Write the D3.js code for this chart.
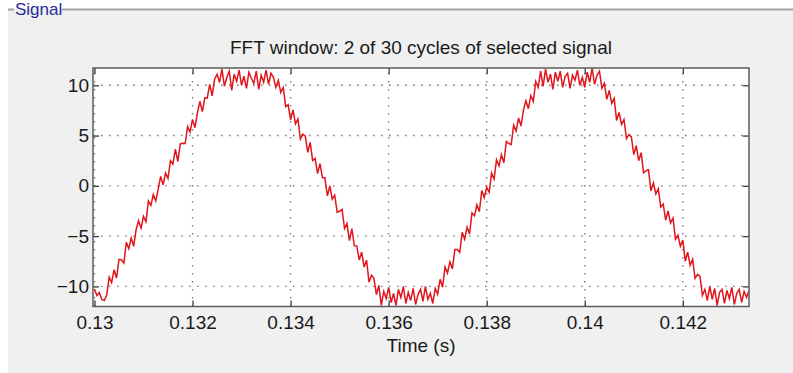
<!DOCTYPE html>
<html><head><meta charset="utf-8">
<script src="https://cdn.jsdelivr.net/npm/d3@7"></script>
<style>html,body{margin:0;padding:0;background:#fff;}svg{display:block}</style>
</head><body>
<svg id="chart" width="793" height="373"></svg>
<script>
const chartTitle = "FFT window: 2 of 30 cycles of selected signal";
const xLabel = "Time (s)";
const panelLabel = "Signal";
const xTicks = [0.13, 0.132, 0.134, 0.136, 0.138, 0.14, 0.142];
const xTickLabels = ["0.13", "0.132", "0.134", "0.136", "0.138", "0.14", "0.142"];
const yTicks = [-10, -5, 0, 5, 10];
const yTickLabels = ["\u221210", "\u22125", "0", "5", "10"];
const xLimits = [0.12997, 0.14335];
const yLimits = [-12.0, 11.72];
const sampleStart = 0.13;
const samplePeriod = 0.00005;
const signal = [
 -10.3, -10.9, -10.6, -11.3, -11.4, -10.85, -9.08, -9.62, -8.35, -9.18,
 -7.31, -7.35, -7.68, -5.61, -6.24, -5.18, -6.01, -4.34, -3.47, -4.21,
 -3.04, -3.57, -1.50, -1.94, -0.87, -1.50, -0.33, 0.93, 0.10, 1.27,
 0.74, 2.50, 2.17, 3.64, 2.41, 4.17, 4.24, 4.21, 5.88, 5.34,
 6.61, 5.78, 7.25, 8.41, 7.38, 8.75, 8.72, 10.08, 8.95, 10.6,
 11.1, 10.3, 11.6, 9.9, 10.8, 11.4, 9.5, 11.1, 10.4, 11.5,
 10.0, 10.9, 9.7, 11.3, 10.7, 10.2, 11.4, 9.6, 11.0, 10.3,
 11.5, 10.1, 11.2, 10.8, 9.8, 10.49, 9.29, 9.78, 7.88, 8.07,
 6.57, 7.56, 6.16, 6.65, 4.65, 5.14, 4.94, 3.33, 4.33, 2.52,
 2.72, 1.21, 2.21, 0.80, 0.80, -1.01, -0.01, -1.32, -0.92, -2.63,
 -2.53, -2.34, -4.24, -3.75, -5.45, -4.26, -5.96, -5.97, -7.37, -6.58,
 -8.08, -7.39, -9.59, -8.90, -9.20, -10.81, -9.9, -11.9, -10.5, -11.2,
 -10.1, -11.6, -10.7, -11.9, -10.3, -11.1, -10.0, -11.7, -10.6, -11.4,
 -10.2, -11.8, -10.8, -10.3, -11.5, -10.0, -11.3, -10.7, -11.7, -10.2,
 -10.79, -9.29, -10.08, -8.07, -8.66, -7.56, -8.25, -6.34, -6.34, -6.63,
 -4.62, -5.31, -4.11, -4.80, -2.69, -2.99, -1.88, -2.57, -0.46, -1.16,
 -0.15, -0.64, 1.26, 0.67, 2.58, 1.99, 3.09, 2.30, 4.41, 4.21,
 4.12, 6.03, 5.44, 6.74, 5.95, 7.56, 8.46, 7.67, 8.98, 8.39,
 10.39, 9.8, 11.4, 9.9, 11.6, 10.3, 11.1, 9.6, 11.3, 10.4,
 11.4, 9.8, 10.9, 11.2, 9.7, 11.0, 10.5, 11.5, 10.0, 10.8,
 9.8, 11.3, 10.3, 11.7, 10.1, 11.0, 11.4, 9.7, 10.2, 8.6,
 9.5, 8.2, 8.7, 6.5, 7.3, 6.1, 6.6, 4.7, 5.1, 4.9,
 3.1, 4.0, 2.5, 3.3, 1.3, 1.5, 1.6, -0.5, 0.3, -0.8,
 -0.3, -2.1, -1.8, -3.4, -2.5, -3.7, -3.2, -5.3, -4.9, -6.0,
 -5.4, -7.5, -6.6, -7.9, -7.3, -9.2, -8.8, -9.0, -10.9, -10.3,
 -11.4, -10.0, -11.3, -10.2, -11.9, -10.6, -10.3, -11.7, -10.4, -11.2,
 -10.1, -11.8, -10.7, -10.3, -11.6, -10.5, -11.1, -10.4
];

const W = 793, H = 373;
const plot = {left: 93, right: 749, top: 68, bottom: 306.5};
const font = "'Liberation Sans', Arial, Helvetica, sans-serif";
const svg = d3.select("#chart");

// panel background
svg.append("rect").attr("x", 0).attr("y", 0).attr("width", W).attr("height", H).attr("fill", "#ffffff");
svg.append("rect").attr("x", 8).attr("y", 9).attr("width", W - 8).attr("height", H - 9).attr("fill", "#f0f0f0");
svg.append("line").attr("x1", 8).attr("x2", 14).attr("y1", 9.5).attr("y2", 9.5).attr("stroke", "#a3a3a3").attr("stroke-width", 2);
svg.append("line").attr("x1", 62).attr("x2", W).attr("y1", 9.5).attr("y2", 9.5).attr("stroke", "#a3a3a3").attr("stroke-width", 2);
svg.append("text").attr("x", 15).attr("y", 15).attr("font-family", font)
  .attr("font-size", 17).attr("fill", "#2a2a9a").text(panelLabel);

const x = d3.scaleLinear().domain(xLimits).range([plot.left, plot.right]);
const y = d3.scaleLinear().domain(yLimits).range([plot.bottom, plot.top]);

svg.append("rect").attr("x", plot.left).attr("y", plot.top)
  .attr("width", plot.right - plot.left).attr("height", plot.bottom - plot.top).attr("fill", "#ffffff");

// grid
const grid = svg.append("g").attr("stroke", "#7a7a7a").attr("stroke-width", 1.4).attr("stroke-dasharray", "1.6,6.4");
grid.selectAll("line.v").data(xTicks).join("line").attr("class", "v")
  .attr("x1", d => x(d)).attr("x2", d => x(d)).attr("y1", plot.bottom).attr("y2", plot.top);
grid.selectAll("line.h").data(yTicks).join("line").attr("class", "h")
  .attr("x1", plot.left).attr("x2", plot.right).attr("y1", d => y(d)).attr("y2", d => y(d));

// signal
svg.append("clipPath").attr("id", "clip").append("rect")
  .attr("x", plot.left).attr("y", plot.top).attr("width", plot.right - plot.left).attr("height", plot.bottom - plot.top);
const line = d3.line().x((d, i) => x(sampleStart + i * samplePeriod)).y(d => y(d));
svg.append("path").datum(signal).attr("clip-path", "url(#clip)")
  .attr("fill", "none").attr("stroke", "#e2141c").attr("stroke-width", 1.5).attr("stroke-linejoin", "miter")
  .attr("d", line);

// axes
function styleAxis(g, showLabels) {
  g.select(".domain").remove();
  g.selectAll(".tick line").attr("stroke", "#3a3a3a").attr("stroke-width", 1.3);
  g.selectAll(".tick text").attr("font-family", font).attr("font-size", 19).attr("fill", "#1a1a1a");
  if (!showLabels) g.selectAll(".tick text").remove();
}
svg.append("g").attr("transform", `translate(0,${plot.bottom})`)
  .call(d3.axisBottom(x).tickValues(xTicks).tickFormat((d, i) => xTickLabels[i]).tickSize(-6).tickPadding(9.5))
  .call(g => styleAxis(g, true));
svg.append("g").attr("transform", `translate(0,${plot.top})`)
  .call(d3.axisTop(x).tickValues(xTicks).tickSize(-6))
  .call(g => styleAxis(g, false));
svg.append("g").attr("transform", `translate(${plot.left},0)`)
  .call(d3.axisLeft(y).tickValues(yTicks).tickFormat((d, i) => yTickLabels[i]).tickSize(-6).tickPadding(4))
  .call(g => styleAxis(g, true));
svg.append("g").attr("transform", `translate(${plot.right},0)`)
  .call(d3.axisRight(y).tickValues(yTicks).tickSize(-6))
  .call(g => styleAxis(g, false));

// frame
svg.append("rect").attr("x", plot.left).attr("y", plot.top)
  .attr("width", plot.right - plot.left).attr("height", plot.bottom - plot.top)
  .attr("fill", "none").attr("stroke", "#5c5c5c").attr("stroke-width", 1.5);

// title and label
svg.append("text").attr("x", (plot.left + plot.right) / 2).attr("y", 54).attr("text-anchor", "middle")
  .attr("font-family", font).attr("font-size", 19).attr("fill", "#1a1a1a").text(chartTitle);
svg.append("text").attr("x", (plot.left + plot.right) / 2).attr("y", 352).attr("text-anchor", "middle")
  .attr("font-family", font).attr("font-size", 19).attr("fill", "#1a1a1a").text(xLabel);
</script>
</body></html>
